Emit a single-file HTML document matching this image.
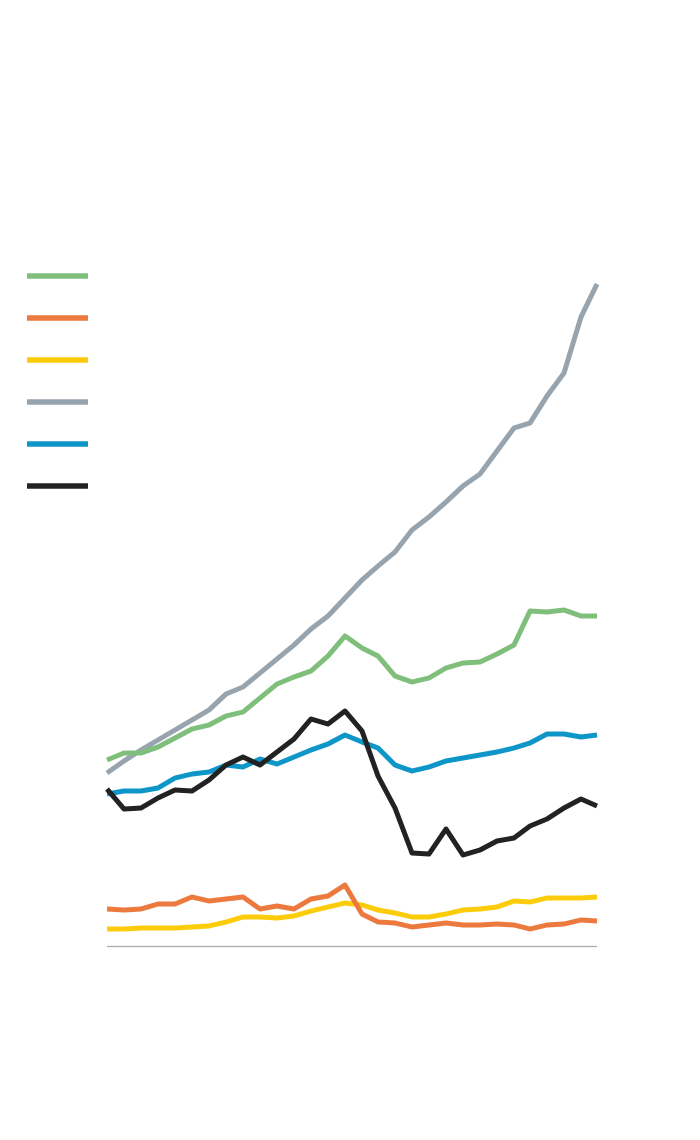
<!DOCTYPE html>
<html><head><meta charset="utf-8"><style>html,body{margin:0;padding:0;background:#fff;}svg{display:block}</style></head>
<body>
<svg width="700" height="1140" viewBox="0 0 700 1140" xmlns="http://www.w3.org/2000/svg">
<g stroke-width="5.5" fill="none">
<line x1="27" y1="276" x2="88" y2="276" stroke="#7fbf7b"/>
<line x1="27" y1="318" x2="88" y2="318" stroke="#ec7a3e"/>
<line x1="27" y1="360" x2="88" y2="360" stroke="#fccc0a"/>
<line x1="27" y1="402" x2="88" y2="402" stroke="#97a4ae"/>
<line x1="27" y1="444" x2="88" y2="444" stroke="#0f96c8"/>
<line x1="27" y1="486" x2="88" y2="486" stroke="#222"/>
</g>
<line x1="107" y1="946.5" x2="597" y2="946.5" stroke="#aaa" stroke-width="1.2"/>
<g stroke-width="5" fill="none" stroke-linejoin="round">
<polyline stroke="#fccc0a" points="107,929 124,929 141,928 158,928 175,928 192,927 209,926 226,922 243,917 260,917 277,918 294,916 311,911 328,907 345,903 362,905 378,910 395,913 412,917 429,917 446,914 463,910 480,909 497,907 514,901 530,902 547,898 564,898 581,898 597,897"/>
<polyline stroke="#ec7a3e" points="107,909 124,910 141,909 158,904 175,904 192,897 209,901 226,899 243,897 260,909 277,906 294,909 311,899 328,896 345,885 362,914 378,922 395,923 412,927 429,925 446,923 463,925 480,925 497,924 514,925 530,929 547,925 564,924 581,920 597,921"/>
<polyline stroke="#97a4ae" points="107,773 124,761 141,750 158,740 175,730 192,720 209,710 226,694 243,687 260,673 277,659 294,645 311,629 328,616 345,598 362,580 378,566 395,552 412,530 429,517 446,502 463,486 480,474 497,451 514,428 530,423 547,396 564,373 581,317 597,284"/>
<polyline stroke="#7fbf7b" points="107,760 124,753 141,753 158,747 175,738 192,729 209,725 226,716 243,712 260,698 277,684 294,677 311,671 328,656 345,636 362,648 378,656 395,676 412,682 429,678 446,668 463,663 480,662 497,654 514,645 530,611 547,612 564,610 581,616 597,616"/>
<polyline stroke="#0f96c8" points="107,794 124,791 141,791 158,788 175,778 192,774 209,772 226,765 243,767 260,759 277,764 294,757 311,750 328,744 345,735 362,742 378,748 395,765 412,771 429,767 446,761 463,758 480,755 497,752 514,748 530,743 547,734 564,734 581,737 597,735"/>
<polyline stroke="#222" points="107,789 124,809 141,808 158,798 175,790 192,791 209,780 226,765 243,757 260,765 277,752 294,739 311,719 328,724 345,711 362,731 378,776 395,808 412,853 429,854 446,829 463,855 480,850 497,841 514,838 530,826 547,819 564,808 581,799 597,806"/>
</g>
</svg>
</body></html>
